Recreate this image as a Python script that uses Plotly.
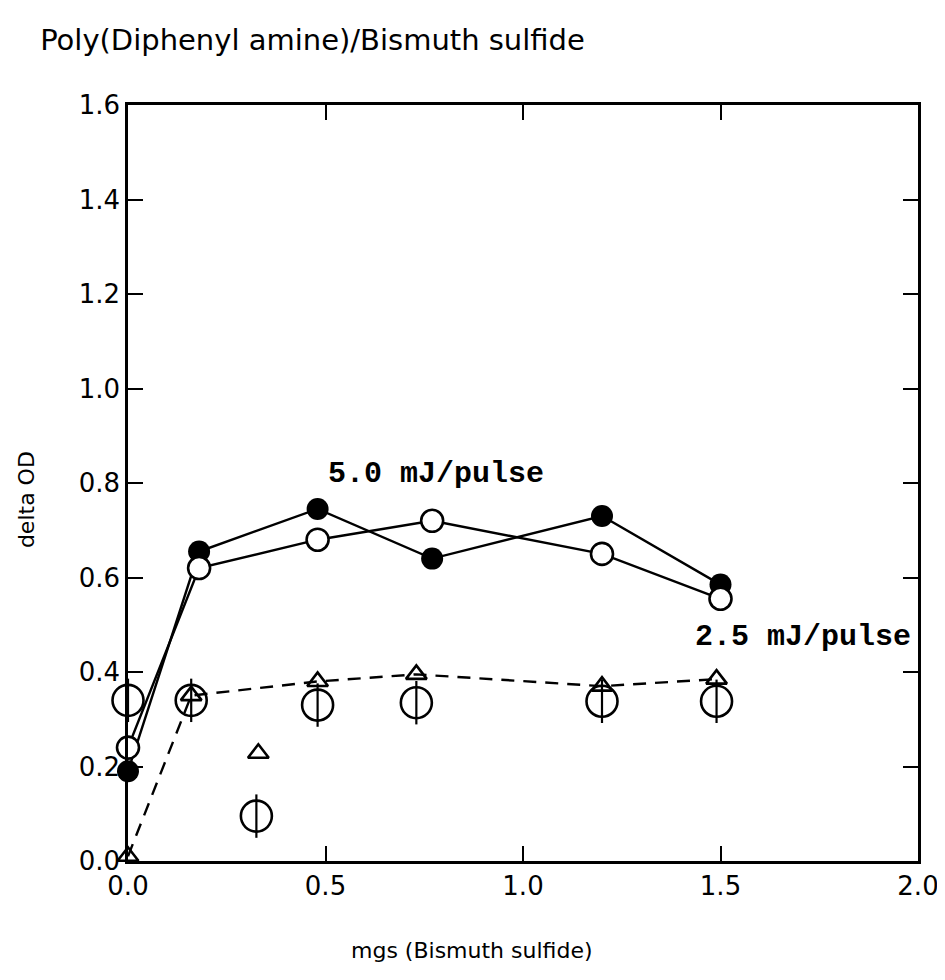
import plotly.graph_objects as go

# mgs of bismuth sulfide
X_MAIN = [0.0, 0.18, 0.48, 0.77, 1.2, 1.5]

# delta OD values
OD_5MJ = [0.19, 0.655, 0.745, 0.64, 0.73, 0.585]      # filled circles
OD_25MJ = [0.24, 0.62, 0.68, 0.72, 0.65, 0.555]       # open circles

X_TRI = [0.0, 0.16, 0.48, 0.73, 1.2, 1.49]
OD_TRI = [0.01, 0.35, 0.38, 0.395, 0.37, 0.385]      # triangles, dashed line

X_BIG = [0.0, 0.16, 0.48, 0.73, 1.2, 1.49, 0.325]
OD_BIG = [0.34, 0.34, 0.33, 0.335, 0.338, 0.338, 0.095]  # large open circles with bar

X_TRI_EXTRA = [0.33]
OD_TRI_EXTRA = [0.228]

FONT = "DejaVu Sans"
LABEL_FONT = "Liberation Mono"

fig = go.Figure()

fig.add_trace(go.Scatter(
    x=X_TRI, y=OD_TRI, mode="lines+markers",
    line=dict(color="black", width=2.4, dash="13px,9px"),
    marker=dict(symbol="triangle-up-open", size=18, color="black", line=dict(width=2.6)),
    cliponaxis=False, showlegend=False,
))
fig.add_trace(go.Scatter(
    x=X_TRI_EXTRA, y=OD_TRI_EXTRA, mode="markers",
    marker=dict(symbol="triangle-up-open", size=18, color="black", line=dict(width=2.6)),
    cliponaxis=False, showlegend=False,
))
fig.add_trace(go.Scatter(
    x=X_BIG, y=OD_BIG, mode="markers",
    marker=dict(symbol="circle-open", size=31, color="black", line=dict(width=2.6)),
    cliponaxis=False, showlegend=False,
))
fig.add_trace(go.Scatter(
    x=X_BIG, y=OD_BIG, mode="markers",
    marker=dict(symbol="line-ns", size=31, color="black", line=dict(width=2.2, color="black")),
    cliponaxis=False, showlegend=False,
))
fig.add_trace(go.Scatter(
    x=X_MAIN, y=OD_5MJ, mode="lines+markers",
    line=dict(color="black", width=2.4),
    marker=dict(symbol="circle", size=22, color="black"),
    cliponaxis=False, showlegend=False,
))
fig.add_trace(go.Scatter(
    x=X_MAIN, y=OD_25MJ, mode="lines+markers",
    line=dict(color="black", width=2.4),
    marker=dict(symbol="circle", size=22, color="white", line=dict(color="black", width=2.6)),
    cliponaxis=False, showlegend=False,
))

fig.add_annotation(x=0.78, y=0.82, text="<b>5.0 mJ/pulse</b>", showarrow=False,
                   font=dict(family=LABEL_FONT, size=30, color="black"))
fig.add_annotation(x=1.71, y=0.475, text="<b>2.5 mJ/pulse</b>", showarrow=False,
                   font=dict(family=LABEL_FONT, size=30, color="black"))

# axis titles placed as text
fig.add_annotation(x=-0.129, y=0.4775, xref="paper", yref="paper", text="delta OD",
                   textangle=-90, showarrow=False, xanchor="center", yanchor="middle",
                   font=dict(family=FONT, size=22, color="black"))
fig.add_annotation(x=0.435, y=-0.119, xref="paper", yref="paper", text="mgs (Bismuth sulfide)",
                   showarrow=False, xanchor="center", yanchor="middle",
                   font=dict(family=FONT, size=22, color="black"))

axis_common = dict(
    showgrid=False, zeroline=False, showline=True, linecolor="black", linewidth=2.5,
    mirror="ticks", ticks="inside", ticklen=15, tickwidth=2, tickcolor="black",
    tickfont=dict(family=FONT, size=26, color="black"), automargin=False,
)

fig.update_layout(
    width=945, height=980,
    paper_bgcolor="white", plot_bgcolor="white",
    margin=dict(l=120, r=35, t=97, b=127),
    title=dict(text="Poly(Diphenyl amine)/Bismuth sulfide", x=0.034, xanchor="left",
               y=0.967, yanchor="middle",
               font=dict(family=FONT, size=29, color="black")),
    xaxis=dict(range=[0, 2], tickvals=[0, 0.5, 1.0, 1.5, 2.0],
               ticktext=["0.0", "0.5", "1.0", "1.5", "2.0"], **axis_common),
    yaxis=dict(range=[0, 1.6], tickvals=[0, 0.2, 0.4, 0.6, 0.8, 1.0, 1.2, 1.4, 1.6],
               ticktext=["0.0", "0.2", "0.4", "0.6", "0.8", "1.0", "1.2", "1.4", "1.6"],
               **axis_common),
)

fig.write_html("out.html")
